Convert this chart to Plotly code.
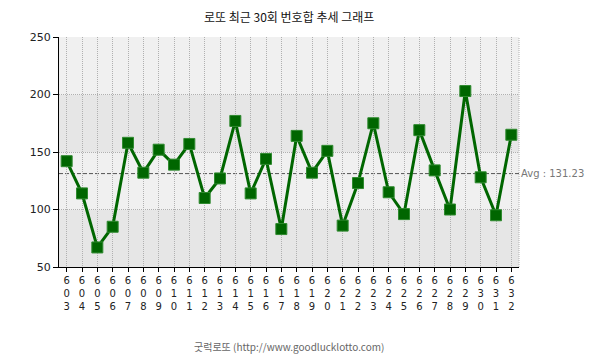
import plotly.graph_objects as go

draws = [str(n) for n in range(603, 633)]
sums = [142, 114, 67, 85, 158, 132, 152, 139, 157, 110,
        127, 177, 114, 144, 83, 164, 132, 151, 86, 123,
        175, 115, 96, 169, 134, 100, 203, 128, 95, 165]
y_ticks = [50, 100, 150, 200, 250]
title_text = "로또 최근 30회 번호합 추세 그래프"
footer_text = "굿럭로또 (http://www.goodlucklotto.com)"

avg = sum(sums) / len(sums)
tick_text = ["<br>".join(list(d)) for d in draws]

fig = go.Figure()
fig.add_trace(go.Scatter(
    x=draws, y=sums, mode="lines+markers",
    line=dict(color="#006600", width=3),
    marker=dict(symbol="square", size=11, color="#006600",
                line=dict(color="#2f8a2f", width=1)),
    hoverinfo="x+y", showlegend=False,
))

shapes = []
band_colors = ["#e6e6e6", "#f0f0f0", "#e6e6e6", "#f0f0f0"]
for i in range(len(y_ticks) - 1):
    shapes.append(dict(type="rect", xref="paper", yref="y", x0=0, x1=1,
                       y0=y_ticks[i], y1=y_ticks[i + 1],
                       fillcolor=band_colors[i], line=dict(width=0), layer="below"))
shapes.append(dict(type="line", xref="paper", yref="paper", x0=1, x1=1, y0=0, y1=1,
                   line=dict(color="#b0b0b0", width=1, dash="1px,1px"), layer="above"))
shapes.append(dict(type="line", xref="paper", yref="y", x0=0, x1=1, y0=avg, y1=avg,
                   line=dict(color="#555555", width=1, dash="4px,2px"), layer="below"))

# page body has an 8px default margin, so the figure is slightly smaller
fig.update_layout(
    width=597, height=351,
    margin=dict(l=51, r=86, t=29, b=92, autoexpand=False),
    paper_bgcolor="white", plot_bgcolor="rgba(0,0,0,0)",
    font=dict(family="DejaVu Sans, Tahoma, sans-serif", size=11, color="#222222"),
    shapes=shapes,
    annotations=[
        dict(text=title_text, xref="paper", yref="paper", x=0.5, y=1, yshift=21,
             xanchor="center", yanchor="middle", showarrow=False,
             font=dict(family="Noto Sans CJK KR", size=12, color="#111111")),
        dict(text=footer_text, xref="paper", yref="paper", x=0.5, y=0, yshift=-79,
             xanchor="center", yanchor="middle", showarrow=False,
             font=dict(family="Noto Sans CJK KR, DejaVu Sans", size=10, color="#666666")),
        dict(text="Avg : %.2f" % avg, xref="paper", yref="y", x=1, y=avg,
             xanchor="left", yanchor="middle", xshift=0, showarrow=False,
             font=dict(family="DejaVu Sans", size=10, color="#777777")),
    ],
)
fig.update_xaxes(
    type="category", range=[-0.5, len(draws) - 0.5], automargin=False,
    tickmode="array", tickvals=draws, ticktext=tick_text,
    showgrid=True, gridcolor="#b0b0b0", griddash="1px,1px", gridwidth=1,
    showline=True, linecolor="black", linewidth=1,
    ticks="outside", ticklen=4, tickcolor="black",
    tickfont=dict(size=10, color="#222222"), zeroline=False,
)
fig.update_yaxes(
    range=[y_ticks[0], y_ticks[-1]], tickvals=y_ticks, automargin=False,
    showgrid=True, gridcolor="#b0b0b0", griddash="1px,1px", gridwidth=1,
    showline=True, linecolor="black", linewidth=1,
    ticks="outside", ticklen=5, tickcolor="black",
    tickfont=dict(size=11, color="#222222"), zeroline=False,
)
fig.write_html("out.html")
